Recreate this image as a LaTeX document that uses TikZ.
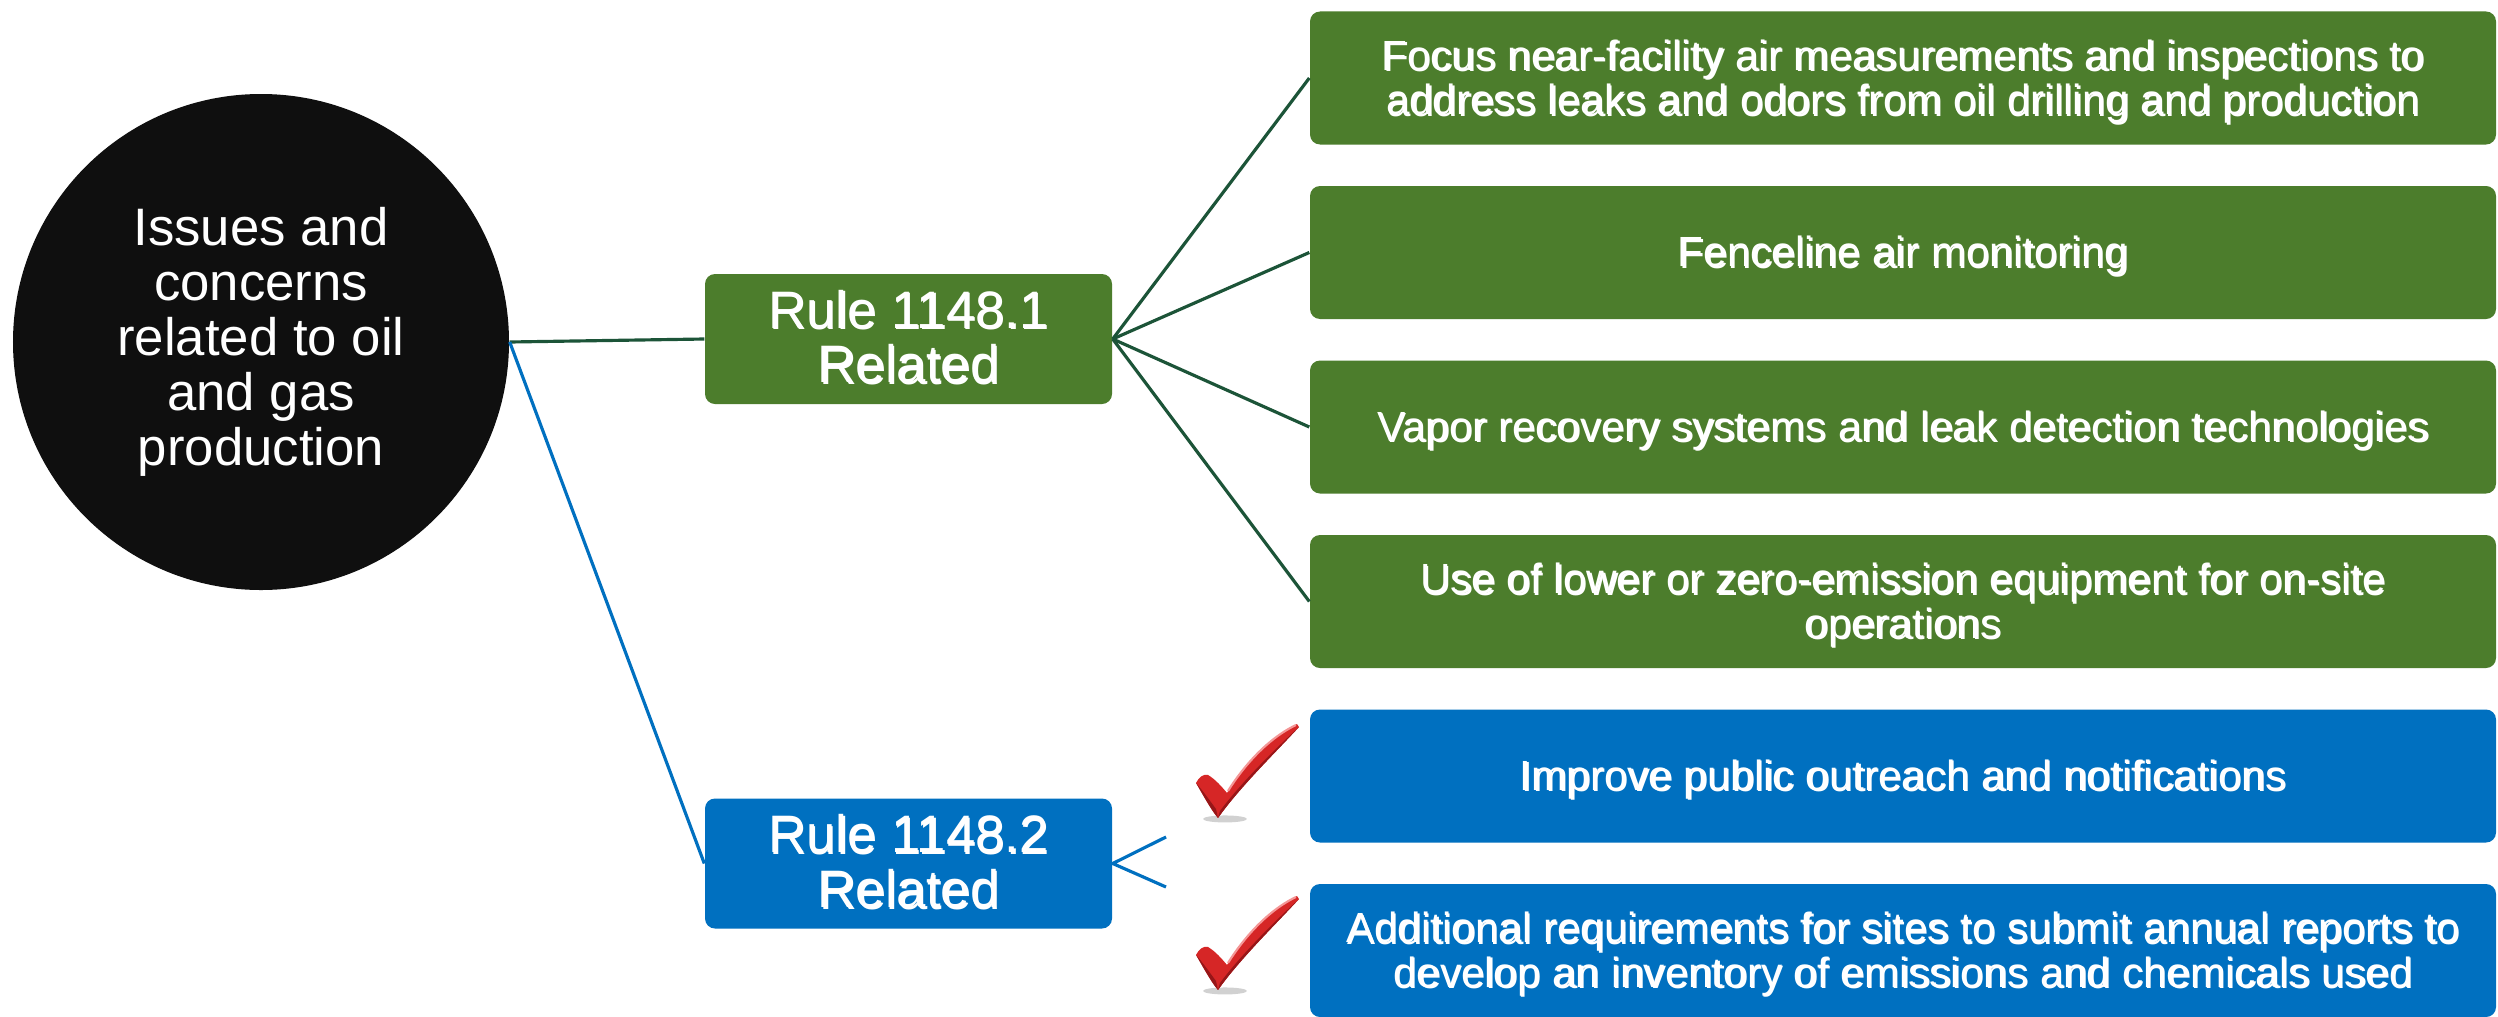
\documentclass[tikz,border=0pt]{standalone}
\usepackage{fontspec}
\setmainfont{Liberation Sans}

\definecolor{rulegreen}{RGB}{76,125,44}
\definecolor{linkgreen}{RGB}{28,84,56}
\definecolor{ruleblue}{RGB}{0,112,192}
\definecolor{hubblack}{RGB}{15,15,15}
\definecolor{tickred}{RGB}{214,38,38}
\definecolor{tickdark}{RGB}{150,22,24}
\definecolor{tickhi}{RGB}{244,150,150}
\definecolor{greenshade}{RGB}{36,62,22}
\definecolor{blueshade}{RGB}{0,55,100}
\colorlet{txtshade}{greenshade}

% white text with a small dark drop shadow, lines split by \\
\newsavebox{\shadebox}
\newcommand{\shadowed}[1]{%
  \sbox{\shadebox}{\begin{tabular}{@{}c@{}}#1\end{tabular}}%
  \raisebox{-1.8pt}[\height][\depth]{%
    \rlap{\kern0.45pt\raisebox{-0.45pt}{\color{txtshade}\usebox{\shadebox}}}%
    \usebox{\shadebox}}}

\tikzset{
  redtick/.pic={
    \begin{scope}[x=0.01cm, y=-0.01cm]
      \fill[black, opacity=0.18] (30,94) ellipse (22 and 3.5);
      % body of the tick
      \fill[tickred] (1,58) .. controls (4,52) and (8,49) .. (13,50)
        .. controls (20,54) and (27,62) .. (32,68)
        .. controls (48,42) and (72,14) .. (102,-1)
        -- (104,2)
        .. controls (80,28) and (45,62) .. (23,93)
        .. controls (16,85) and (7,68) .. cycle;
      % shaded faces
      \fill[tickdark] (104,2) .. controls (80,28) and (45,62) .. (23,93)
        -- (25,86) .. controls (46,58) and (78,26) .. cycle;
      \fill[tickdark] (1,58) .. controls (7,68) and (16,85) .. (23,93)
        -- (21,84) .. controls (15,76) and (8,66) .. cycle;
      \draw[tickhi, line width=0.6pt] (33,66) .. controls (48,42) and (72,14) .. (101,0);
    \end{scope}
  }
}

\begin{document}
\begin{tikzpicture}[
    hub/.style={circle, fill=hubblack, text=white, inner sep=0pt, minimum size=4.96cm,
      align=center, font=\fontsize{15}{15.6}\selectfont},
    rulebox/.style={rectangle, rounded corners=0.1cm, inner sep=0pt, minimum width=4.07cm,
      minimum height=1.30cm, text=white, font=\fontsize{15}{15.6}\selectfont},
    itembox/.style={rectangle, rounded corners=0.1cm, inner sep=0pt, minimum width=11.86cm,
      minimum height=1.33cm, text=white, font=\fontsize{12}{12.6}\selectfont},
    green/.style={fill=rulegreen, execute at begin node={\colorlet{txtshade}{greenshade}}},
    blue/.style={fill=ruleblue, execute at begin node={\colorlet{txtshade}{blueshade}}},
    greenlink/.style={draw=linkgreen, line width=0.9pt},
    bluelink/.style={draw=ruleblue, line width=0.9pt}
  ]
  \path[use as bounding box, fill=white] (0,0) rectangle (24.98,-10.16);

  \node[hub] (hub) at (2.61,-3.42) {Issues and\\concerns\\related to oil\\and gas\\production};

  \node[rulebox, green] (rule1) at (9.085,-3.39) {\shadowed{Rule 1148.1\\Related}};
  \node[rulebox, blue] (rule2) at (9.085,-8.635) {\shadowed{Rule 1148.2\\Related}};

  % rule 1148.1 items
  \node[itembox, green] (g1) at (19.03,-0.78)
    {\shadowed{Focus near-facility air measurements and inspections to\\address leaks and odors from oil drilling and production}};
  \node[itembox, green] (g2) at (19.03,-2.525) {\shadowed{Fenceline air monitoring}};
  \node[itembox, green] (g3) at (19.03,-4.27)
    {\shadowed{Vapor recovery systems and leak detection technologies}};
  \node[itembox, green] (g4) at (19.03,-6.015)
    {\shadowed{Use of lower or zero-emission equipment for on-site\\operations}};

  % rule 1148.2 items
  \node[itembox, blue] (b1) at (19.03,-7.76)
    {\shadowed{Improve public outreach and notifications}};
  \node[itembox, blue] (b2) at (19.03,-9.505)
    {\shadowed{Additional requirements for sites to submit annual reports to\\develop an inventory of emissions and chemicals used}};

  \pic at (11.95,-7.25) {redtick};
  \pic at (11.95,-8.97) {redtick};

  % connectors
  \draw[greenlink] (hub.east) -- (rule1.west);
  \draw[bluelink] (hub.east) -- (rule2.west);
  \foreach \g in {g1,g2,g3,g4}
    \draw[greenlink] (rule1.east) -- (\g.west);
  \coordinate (b1end) at (11.66,-8.37);
  \coordinate (b2end) at (11.66,-8.87);
  \draw[bluelink] (b1end) -- (rule2.east) -- (b2end);
\end{tikzpicture}
\end{document}
